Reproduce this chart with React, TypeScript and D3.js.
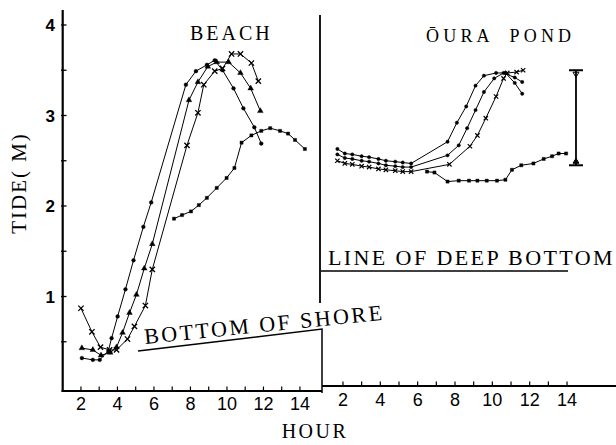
import React from 'react';
import * as d3 from 'd3';

const W = 616;
const H = 445;

// ---- BEACH (left panel) ----
const beachAHours = [2.05, 2.65, 3.03, 3.5, 3.68, 4.01, 4.44, 4.88, 5.42, 5.85, 7.75, 8.3, 8.9, 9.33, 9.76, 10.36, 10.9, 11.5, 11.88];
const beachATide = [0.32, 0.30, 0.30, 0.40, 0.54, 0.78, 1.08, 1.40, 1.77, 2.04, 3.34, 3.49, 3.56, 3.61, 3.50, 3.30, 3.08, 2.87, 2.69];

const beachBHours = [2.05, 2.65, 3.1, 3.6, 3.95, 4.28, 4.66, 5.04, 5.47, 5.91, 7.92, 8.41, 8.95, 9.44, 10.09, 10.74, 11.3, 11.83];
const beachBTide = [0.43, 0.41, 0.35, 0.38, 0.44, 0.60, 0.82, 1.02, 1.31, 1.58, 3.17, 3.37, 3.54, 3.59, 3.59, 3.47, 3.30, 3.05];

const beachCHours = [2.0, 2.6, 3.07, 3.57, 3.95, 4.55, 4.93, 5.53, 5.91, 7.81, 8.41, 8.73, 9.33, 9.76, 10.25, 10.74, 11.34, 11.72];
const beachCTide = [0.87, 0.61, 0.44, 0.41, 0.41, 0.53, 0.67, 0.90, 1.30, 2.67, 3.03, 3.34, 3.49, 3.52, 3.68, 3.68, 3.58, 3.38];

const beachDHours = [7.1, 7.54, 8.03, 8.46, 8.9, 9.44, 9.98, 10.41, 10.8, 11.34, 11.88, 12.37, 12.91, 13.35, 13.73, 14.27];
const beachDTide = [1.86, 1.90, 1.94, 2.01, 2.09, 2.20, 2.31, 2.42, 2.70, 2.78, 2.83, 2.86, 2.83, 2.80, 2.73, 2.63];

// ---- ŌURA POND (right panel) ----
const pondAHours = [1.7, 2.1, 2.5, 3.0, 3.4, 3.9, 4.3, 4.8, 5.2, 5.65, 7.6, 8.1, 8.6, 9.1, 9.55, 10.2, 10.7, 11.2, 11.6];
const pondATide = [2.63, 2.58, 2.57, 2.55, 2.54, 2.52, 2.50, 2.49, 2.48, 2.47, 2.71, 2.92, 3.10, 3.33, 3.44, 3.47, 3.47, 3.36, 3.24];

const pondBHours = [1.7, 2.1, 2.5, 3.0, 3.4, 3.9, 4.3, 4.8, 5.2, 5.65, 7.6, 8.2, 8.65, 9.1, 9.55, 10.1, 10.6, 11.2, 11.6];
const pondBTide = [2.57, 2.53, 2.52, 2.50, 2.49, 2.47, 2.45, 2.44, 2.43, 2.43, 2.56, 2.67, 2.86, 3.06, 3.26, 3.41, 3.47, 3.42, 3.37];

const pondCHours = [1.7, 2.1, 2.5, 3.0, 3.4, 3.9, 4.3, 4.8, 5.2, 5.65, 7.7, 8.8, 9.2, 9.65, 10.2, 10.6, 10.8, 11.3, 11.65];
const pondCTide = [2.50, 2.47, 2.46, 2.44, 2.43, 2.41, 2.40, 2.39, 2.38, 2.38, 2.46, 2.66, 2.78, 2.97, 3.21, 3.41, 3.47, 3.48, 3.50];

const pondDHours = [6.5, 6.9, 7.6, 8.2, 8.75, 9.2, 9.7, 10.25, 10.7, 11.05, 11.55, 12.2, 12.75, 13.2, 13.55, 13.95];
const pondDTide = [2.38, 2.37, 2.27, 2.28, 2.28, 2.28, 2.28, 2.28, 2.29, 2.40, 2.45, 2.47, 2.52, 2.55, 2.58, 2.58];

// tidal range bar in the pond panel
const rangeHour = 14.48;
const rangeLow = 2.45;
const rangeHigh = 3.5;

const yTicks = [0.5, 1, 1.5, 2, 2.5, 3, 3.5, 4];
const yLabels = [1, 2, 3, 4];
const hourTicks = [2, 3, 4, 5, 6, 7, 8, 9, 10, 11, 12, 13, 14];
const hourLabels = [2, 4, 6, 8, 10, 12, 14];

const serif = '"Liberation Serif", "Times New Roman", serif';
const sans = '"Liberation Sans", Arial, sans-serif';
const narrow = '"Liberation Sans Narrow", "Liberation Sans", Arial, sans-serif';

type Pt = [number, number];
const zip = (h: number[], v: number[]): Pt[] => h.map((d, i) => [d, v[i]]);

export default function App() {
  const y = d3.scaleLinear().domain([0, 4]).range([387, 25]);
  const xL = d3.scaleLinear().domain([1, 15]).range([62.7, 318.2]);
  const xR = d3.scaleLinear().domain([1, 15]).range([324.3, 585.7]);

  const lineL = d3.line<Pt>().x((d) => xL(d[0])).y((d) => y(d[1]));
  const lineR = d3.line<Pt>().x((d) => xR(d[0])).y((d) => y(d[1]));

  const circle = d3.symbol().type(d3.symbolCircle).size(11)() as string;
  const circleS = d3.symbol().type(d3.symbolCircle).size(9)() as string;
  const tri = d3.symbol().type(d3.symbolTriangle).size(14)() as string;
  const cross = d3.symbol().type(d3.symbolX).size(20)() as string;
  const crossS = d3.symbol().type(d3.symbolX).size(14)() as string;
  const square = d3.symbol().type(d3.symbolSquare).size(10)() as string;

  const leftSeries = [
    { pts: zip(beachAHours, beachATide), sym: circle, kind: 'fill' },
    { pts: zip(beachBHours, beachBTide), sym: tri, kind: 'fill' },
    { pts: zip(beachCHours, beachCTide), sym: cross, kind: 'stroke' },
    { pts: zip(beachDHours, beachDTide), sym: square, kind: 'fill' },
  ];
  const rightSeries = [
    { pts: zip(pondAHours, pondATide), sym: circleS, kind: 'fill' },
    { pts: zip(pondBHours, pondBTide), sym: circleS, kind: 'fill' },
    { pts: zip(pondCHours, pondCTide), sym: crossS, kind: 'stroke' },
    { pts: zip(pondDHours, pondDTide), sym: square, kind: 'fill' },
  ];

  const axisYL = 391;
  const axisYR = 386;
  const rx = xR(rangeHour);

  return (
    <svg
      width={W}
      height={H}
      viewBox={`0 0 ${W} ${H}`}
      style={{ position: 'absolute', left: 0, top: 0, background: '#fff' }}
    >
      <rect x={0} y={0} width={W} height={H} fill="#fff" />

      {/* Y axis */}
      <line x1={62.7} x2={62.7} y1={10} y2={axisYL + 1} stroke="#000" strokeWidth={2.2} />
      {yTicks.map((t) => (
        <line key={'yt' + t} x1={61} x2={66.5} y1={y(t)} y2={y(t)} stroke="#000" strokeWidth={1.3} />
      ))}
      {yLabels.map((t) => (
        <text
          key={'yl' + t}
          x={55}
          y={y(t)}
          dy="0.36em"
          textAnchor="end"
          fontFamily={sans}
          fontWeight={700}
          fontSize={17}
        >
          {t}
        </text>
      ))}
      <text
        transform="translate(26,183) rotate(-90)"
        textAnchor="middle"
        fontFamily={serif}
        fontSize={21}
        letterSpacing={2}
      >
        TIDE( M)
      </text>

      {/* Left X axis */}
      <line x1={61.6} x2={322} y1={axisYL} y2={axisYL} stroke="#000" strokeWidth={2} />
      {hourTicks.map((t) => (
        <line key={'xlt' + t} x1={xL(t)} x2={xL(t)} y1={axisYL} y2={axisYL - 4.5} stroke="#000" strokeWidth={1.2} />
      ))}
      {hourLabels.map((t) => (
        <text
          key={'xll' + t}
          x={xL(t)}
          y={410}
          textAnchor="middle"
          fontFamily={narrow}
          fontSize={18}
        >
          {t}
        </text>
      ))}

      {/* Right X axis */}
      <line x1={322} x2={616} y1={axisYR} y2={axisYR} stroke="#000" strokeWidth={2} />
      {hourTicks.map((t) => (
        <line key={'xrt' + t} x1={xR(t)} x2={xR(t)} y1={axisYR} y2={axisYR - 4.5} stroke="#000" strokeWidth={1.2} />
      ))}
      {hourLabels.map((t) => (
        <text
          key={'xrl' + t}
          x={xR(t)}
          y={406}
          textAnchor="middle"
          fontFamily={narrow}
          fontSize={18}
        >
          {t}
        </text>
      ))}
      <text x={315} y={438} textAnchor="middle" fontFamily={serif} fontSize={20} letterSpacing={2.5}>
        HOUR
      </text>

      {/* Divider and reference lines */}
      <line x1={320} x2={320} y1={15} y2={303} stroke="#000" strokeWidth={1.8} />
      <polyline points="138,351 322,329 322,393" fill="none" stroke="#000" strokeWidth={1.5} />
      <line x1={321} x2={568} y1={271} y2={271} stroke="#000" strokeWidth={1.5} />

      <text x={328} y={265} fontFamily={serif} fontSize={22} letterSpacing={2.4}>
        LINE OF DEEP BOTTOM
      </text>
      <text
        transform="translate(145,344) rotate(-5.8)"
        fontFamily={serif}
        fontSize={22}
        letterSpacing={2.5}
      >
        BOTTOM OF SHORE
      </text>

      <text x={190} y={40} fontFamily={serif} fontSize={20} letterSpacing={3}>
        BEACH
      </text>
      <text x={426} y={42} fontFamily={serif} fontSize={18} letterSpacing={4.2} wordSpacing={8}>
        ŌURA POND
      </text>

      {/* Beach series */}
      {leftSeries.map((s, i) => (
        <g key={'ls' + i}>
          <path d={lineL(s.pts) as string} fill="none" stroke="#000" strokeWidth={1} />
          {s.pts.map((p, j) => (
            <path
              key={j}
              d={s.sym}
              transform={`translate(${xL(p[0])},${y(p[1])})`}
              fill={s.kind === 'fill' ? '#000' : 'none'}
              stroke="#000"
              strokeWidth={s.kind === 'fill' ? 0.4 : 1.3}
            />
          ))}
        </g>
      ))}

      {/* Pond series */}
      {rightSeries.map((s, i) => (
        <g key={'rs' + i}>
          <path d={lineR(s.pts) as string} fill="none" stroke="#000" strokeWidth={1} />
          {s.pts.map((p, j) => (
            <path
              key={j}
              d={s.sym}
              transform={`translate(${xR(p[0])},${y(p[1])})`}
              fill={s.kind === 'fill' ? '#000' : 'none'}
              stroke="#000"
              strokeWidth={s.kind === 'fill' ? 0.4 : 1.2}
            />
          ))}
        </g>
      ))}

      {/* Tidal range bar */}
      <line x1={rx} x2={rx} y1={y(rangeHigh)} y2={y(rangeLow)} stroke="#000" strokeWidth={1.8} />
      <line x1={rx - 7} x2={rx + 7} y1={y(rangeHigh)} y2={y(rangeHigh)} stroke="#000" strokeWidth={2} />
      <line x1={rx - 7} x2={rx + 7} y1={y(rangeLow)} y2={y(rangeLow)} stroke="#000" strokeWidth={2} />
      <path
        d={`M${rx - 3},${y(rangeHigh) + 2} L${rx + 3},${y(rangeHigh) + 2} L${rx},${y(rangeHigh) + 7} Z`}
        fill="none"
        stroke="#000"
        strokeWidth={1}
      />
      <path
        d={`M${rx - 3},${y(rangeLow) - 2} L${rx + 3},${y(rangeLow) - 2} L${rx},${y(rangeLow) - 7} Z`}
        fill="#000"
        stroke="#000"
        strokeWidth={1}
      />
    </svg>
  );
}
